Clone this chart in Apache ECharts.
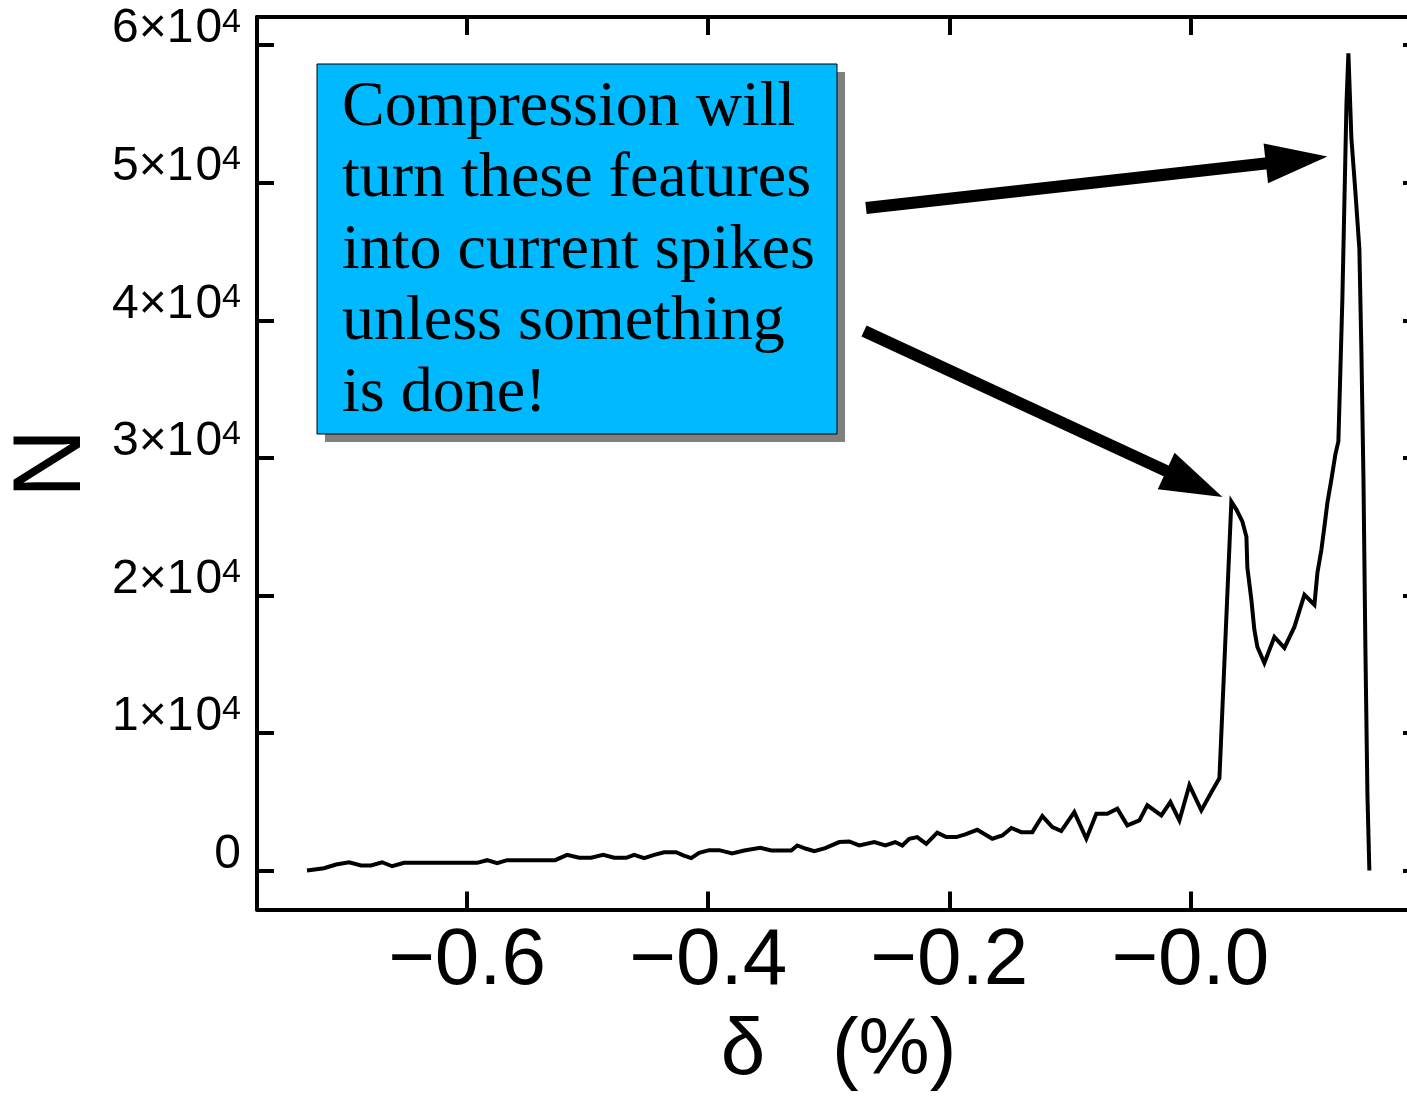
<!DOCTYPE html>
<html>
<head>
<meta charset="utf-8">
<script src="https://cdn.jsdelivr.net/npm/echarts@6/dist/echarts.min.js"></script>
<style>
html,body{margin:0;padding:0;background:#fff;}
#chart{width:1407px;height:1101px;}
</style>
</head>
<body>
<div id="chart"></div>
<script>
// ---- data ----
const deltaValues = [
  -0.7328, -0.7187, -0.7087, -0.6979, -0.6880, -0.6797, -0.6705, -0.6622, -0.6523, -0.6423,
  -0.6315, -0.6216, -0.6108, -0.6008, -0.5917, -0.5834, -0.5751, -0.5668, -0.5568, -0.5469,
  -0.5369, -0.5270, -0.5170, -0.5071, -0.4971, -0.4871, -0.4780, -0.4680, -0.4614, -0.4531,
  -0.4448, -0.4365, -0.4266, -0.4207, -0.4141, -0.4075, -0.3992, -0.3909, -0.3801, -0.3701,
  -0.3568, -0.3477, -0.3378, -0.3311, -0.3261, -0.3187, -0.3120, -0.3029, -0.2913, -0.2830,
  -0.2747, -0.2622, -0.2531, -0.2448, -0.2390, -0.2332, -0.2266, -0.2191, -0.2100, -0.2025,
  -0.1942, -0.1867, -0.1768, -0.1643, -0.1560, -0.1485, -0.1402, -0.1311, -0.1228, -0.1145,
  -0.1071, -0.0963, -0.0863, -0.0780, -0.0689, -0.0606, -0.0523, -0.0423, -0.0357, -0.0241,
  -0.0166, -0.0091, -0.0008, 0.0091, 0.0174, 0.0241,
  0.0340, 0.0382, 0.0432, 0.0465, 0.0473, 0.0506, 0.0531, 0.0556, 0.0614, 0.0697,
  0.0780, 0.0863, 0.0946, 0.1029, 0.1054, 0.1087, 0.1112, 0.1137, 0.1170, 0.1203,
  0.1228, 0.1261, 0.1295, 0.1311, 0.1336, 0.1369, 0.1402, 0.1419, 0.1436, 0.1452,
  0.1469, 0.1485
];
const countValues = [
  0, 170, 440, 600, 365, 365, 600, 310, 560, 560,
  560, 560, 560, 560, 560, 750, 530, 750, 750, 750,
  750, 750, 1140, 925, 925, 1140, 925, 925, 1140, 900,
  1140, 1330, 1330, 1100, 900, 1290, 1480, 1480, 1250, 1460,
  1650, 1460, 1460, 1460, 1820, 1580, 1410, 1630, 2070, 2110,
  1820, 2070, 1820, 2070, 1820, 2310, 2430, 1940, 2750, 2430,
  2430, 2620, 2960, 2310, 2550, 3090, 2790, 2790, 3960, 3160,
  2870, 4250, 2310, 4130, 4130, 4500, 3280, 3640, 4740, 4010,
  4980, 3640, 6200, 4370, 5690, 6710,
  26820, 26240, 25360, 24270, 22010, 19680, 17490, 16250, 15090, 16980,
  16180, 17710, 20040, 19320, 21650, 23320, 25000, 26750, 28430, 30250,
  31200, 41550, 55760, 59400, 53210, 49340, 45190, 37680, 28430, 16180,
  5470, 0
];
const xTickValues = [-0.6, -0.4, -0.2, 0.0];
const yTickValues = [0, 10000, 20000, 30000, 40000, 50000, 60000];
const calloutLines = [
  'Compression will',
  'turn these features',
  'into current spikes',
  'unless something',
  'is done!'
];
// arrow tips in data coordinates (delta, N)
const arrowTips = [[0.1137, 51900], [0.0266, 27150]];

// ---- chart ----
const chart = echarts.init(document.getElementById('chart'), null, {renderer: 'canvas'});
const FONT = '"Liberation Sans", Arial, Helvetica, sans-serif';
const xMin = -0.7743, xMax = 0.1905;
const yMin = -2834, yMax = 62049;
const axisLineStyle = {color: '#000', width: 4};
const tickStyle = {color: '#000', width: 4};

const seriesData = deltaValues.map((d, i) => [d, countValues[i]]);

chart.setOption({
  animation: false,
  backgroundColor: '#fff',
  grid: {left: 257, top: 17, width: 1163, bottom: 191.5, containLabel: false, outerBoundsMode: 'none'},
  xAxis: [
    {
      type: 'value', position: 'bottom', min: xMin, max: xMax,
      axisLine: {show: true, onZero: false, lineStyle: axisLineStyle},
      axisTick: {show: true, inside: true, length: 18, lineStyle: tickStyle, customValues: xTickValues},
      axisLabel: {
        show: true, customValues: xTickValues, margin: 12,
        fontSize: 80, fontFamily: FONT, color: '#000',
        formatter: v => '\u2212' + Math.abs(v).toFixed(1)
      },
      splitLine: {show: false},
      name: '\u03b4   (%)', nameLocation: 'middle', nameGap: 102,
      nameTextStyle: {fontSize: 80, fontFamily: FONT, color: '#000'}
    },
    {
      type: 'value', position: 'top', min: xMin, max: xMax,
      axisLine: {show: true, onZero: false, lineStyle: axisLineStyle},
      axisTick: {show: true, inside: true, length: 18, lineStyle: tickStyle, customValues: xTickValues},
      axisLabel: {show: false},
      splitLine: {show: false}
    }
  ],
  yAxis: [
    {
      type: 'value', position: 'left', min: yMin, max: yMax,
      axisLine: {show: true, onZero: false, lineStyle: axisLineStyle},
      axisTick: {show: true, inside: true, length: 17, lineStyle: tickStyle, customValues: yTickValues},
      axisLabel: {
        show: true, customValues: yTickValues, margin: 16,
        padding: [0, 0, 32, 0],
        color: '#000', fontFamily: FONT, fontSize: 48,
        formatter: v => v === 0 ? '{d|0}' : '{d|' + (v / 10000) + '\u00d71}{g|0}{s|4}',
        rich: {
          d: {fontSize: 48, lineHeight: 48, fontFamily: FONT, color: '#000'},
          g: {fontSize: 48, lineHeight: 48, fontFamily: FONT, color: '#000', padding: [0, 0, 0, 2]},
          s: {fontSize: 34, lineHeight: 34, fontFamily: FONT, color: '#000', verticalAlign: 'top'}
        }
      },
      splitLine: {show: false},
      name: 'N', nameLocation: 'middle', nameGap: 139, nameRotate: 90,
      nameTextStyle: {fontSize: 96, fontFamily: FONT, color: '#000'}
    },
    {
      type: 'value', position: 'right', min: yMin, max: yMax,
      axisLine: {show: true, onZero: false, lineStyle: axisLineStyle},
      axisTick: {show: true, inside: true, length: 17, lineStyle: tickStyle, customValues: yTickValues},
      axisLabel: {show: false},
      splitLine: {show: false}
    }
  ],
  series: [{
    type: 'line',
    xAxisIndex: 0, yAxisIndex: 0,
    data: seriesData,
    showSymbol: false, symbol: 'none',
    smooth: false,
    lineStyle: {color: '#000', width: 4, join: 'miter'},
    z: 3
  }]
});

// ---- annotation: callout box and arrows ----
const box = {x: 317, y: 64, w: 520, h: 370};
const tails = [[866, 208], [864, 331]];
function arrow(tail, tip) {
  const dx = tip[0] - tail[0], dy = tip[1] - tail[1];
  const len = Math.sqrt(dx * dx + dy * dy);
  const ux = dx / len, uy = dy / len;
  const px = -uy, py = ux;
  const headLen = 62, headHalf = 20;
  const bx = tip[0] - ux * headLen, by = tip[1] - uy * headLen;
  return [
    {type: 'line', z: 10, shape: {x1: tail[0], y1: tail[1], x2: bx + ux * 4, y2: by + uy * 4},
     style: {stroke: '#000', lineWidth: 12, lineCap: 'butt'}},
    {type: 'polygon', z: 10, shape: {points: [[tip[0], tip[1]], [bx + px * headHalf, by + py * headHalf], [bx - px * headHalf, by - py * headHalf]]},
     style: {fill: '#000'}}
  ];
}
const graphics = [
  {type: 'rect', z: 8, shape: {x: box.x + 8, y: box.y + 8, width: box.w, height: box.h}, style: {fill: '#808080'}},
  {type: 'rect', z: 9, shape: {x: box.x, y: box.y, width: box.w, height: box.h}, style: {fill: '#00B9FF', stroke: '#000', lineWidth: 1}},
  {type: 'text', z: 10, style: {
    text: calloutLines.join('\n'), x: 342, y: 72,
    fontSize: 64, fontFamily: '"Liberation Serif", "Times New Roman", serif',
    lineHeight: 71.5, fill: '#000', align: 'left', verticalAlign: 'top'
  }}
];
arrowTips.forEach((t, i) => {
  const p = chart.convertToPixel({xAxisIndex: 0, yAxisIndex: 0}, t);
  arrow(tails[i], p).forEach(g => graphics.push(g));
});
chart.setOption({graphic: graphics});
</script>
</body>
</html>
